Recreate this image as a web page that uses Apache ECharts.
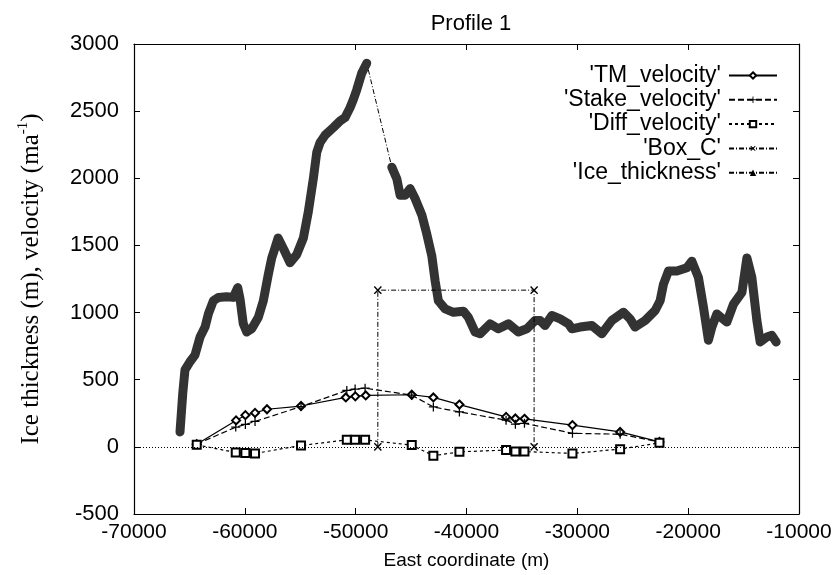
<!DOCTYPE html>
<html>
<head>
<meta charset="utf-8">
<script src="https://cdn.jsdelivr.net/npm/echarts@6/dist/echarts.min.js"></script>
<style>
  html, body { margin: 0; padding: 0; background: #fff; }
  #main { width: 839px; height: 575px; }
</style>
</head>
<body>
<div id="main"></div>
<script>
// ice thickness profile (dense band)
var iceX = [-65850,-65600,-65400,-64950,-64500,-64040,-63590,-63290,-62840,-62390,-61630,-61040,-60640,-60430,-60140,-59830,-59380,-58780,-58330,-57880,-57570,-57370,-57000,-56460,-55920,-55320,-54720,-54270,-53820,-53510,-53210,-52760,-52010,-51410,-50960,-50510,-50210,-49900,-49450,-49000,-46740,-46290,-45990,-45540,-45090,-44640,-44030,-43580,-43130,-42830,-42540,-41930,-41180,-40280,-39830,-39220,-38770,-37870,-37120,-36220,-35320,-34560,-33810,-33360,-32910,-32300,-31550,-30800,-30500,-29750,-28690,-27790,-26890,-25840,-25240,-24790,-23880,-22980,-22530,-22230,-21780,-21020,-20120,-19670,-19070,-18620,-18170,-17860,-17410,-16510,-15910,-15150,-14700,-14250,-13800,-13500,-12900,-12450,-12060];
var iceV = [111,400,573,634,683,818,892,990,1088,1113,1118,1113,1186,1100,916,855,879,965,1088,1284,1407,1457,1555,1466,1371,1432,1555,1752,1997,2194,2267,2321,2378,2427,2452,2525,2587,2660,2783,2857,2083,1997,1874,1874,1923,1850,1727,1584,1422,1236,1088,1027,1002,1010,965,855,842,916,879,916,855,879,941,941,904,978,953,916,879,892,904,842,941,1002,953,892,941,1015,1088,1211,1309,1309,1334,1383,1260,1039,794,892,990,929,1063,1150,1407,1260,941,781,818,830,781];

// velocities
var tmX = [-64340,-60790,-59950,-59080,-58000,-54930,-50890,-50030,-49090,-44940,-42990,-40640,-36430,-35590,-34770,-30440,-26140,-22590];
var tmV = [20,197,236,253,280,304,368,376,383,388,368,315,223,211,209,162,111,37];
var velX = [-64340,-60820,-59950,-59080,-54930,-50800,-50050,-49150,-44940,-42990,-40640,-36430,-35590,-34770,-30440,-26140,-22590];
var stakeV = [20,147,167,189,300,420,430,437,385,297,260,199,169,175,101,94,37];
var diffV = [15,-42,-46,-49,10,52,52,52,13,-66,-37,-24,-35,-35,-49,-17,30];

// box C outline
var boxX = [-48000,-48000,-33900,-33900];
var boxV = [0,1167,1167,0];

var xTicks = { min: -70000, max: -10000, interval: 10000 };
var yTicks = { min: -500, max: 3000, interval: 500 };

var legendNames = ["'TM_velocity'", "'Stake_velocity'", "'Diff_velocity'", "'Box_C'", "'Ice_thickness'"];

function zip(xs, ys) {
    var out = [];
    for (var i = 0; i < Math.min(xs.length, ys.length); i++) out.push([xs[i], ys[i]]);
    return out;
}

// band data: break the thick band where the profile has no samples
function withGaps(xs, ys, maxStep) {
    var out = [];
    for (var i = 0; i < xs.length; i++) {
        if (i > 0 && xs[i] - xs[i - 1] > maxStep) out.push([null, null]);
        out.push([xs[i], ys[i]]);
    }
    return out;
}

var SANS = 'Liberation Sans, Arial, sans-serif';
var SERIF = 'Liberation Serif, DejaVu Serif, serif';
var PLUS = 'path://M4.3,0H5.7V4.3H10V5.7H5.7V10H4.3V5.7H0V4.3H4.3Z';
var plain = function (v) { return String(v); };

var chart = echarts.init(document.getElementById('main'), null, { renderer: 'canvas' });

var axisCommon = {
    axisLine: { show: true, onZero: false, lineStyle: { color: '#000', width: 1.2 } },
    axisTick: { show: true, inside: true, length: 6, lineStyle: { color: '#000' } },
    splitLine: { show: false }
};

var legends = legendNames.map(function (n, i) {
    return {
        data: [n],
        orient: 'vertical',
        align: 'right',
        right: 56,
        top: 59 + i * 24.3,
        itemWidth: 48,
        itemHeight: 8,
        itemGap: 0,
        selectedMode: false,
        textStyle: { fontFamily: SANS, fontSize: 23, color: '#000', padding: [0, 3, 0, 0] }
    };
});

var option = {
    animation: false,
    backgroundColor: '#fff',
    title: {
        text: 'Profile 1',
        left: 466,
        textAlign: 'center',
        top: 8,
        textStyle: { fontFamily: SANS, fontSize: 22, fontWeight: 'normal', color: '#000' }
    },
    legend: legends,
    grid: { left: 134, right: 40, top: 44, bottom: 56 },
    xAxis: [
        Object.assign({
            type: 'value', position: 'bottom',
            min: xTicks.min, max: xTicks.max, interval: xTicks.interval,
            name: 'East coordinate (m)', nameLocation: 'middle', nameGap: 37,
            nameTextStyle: { fontFamily: SANS, fontSize: 19, color: '#000' },
            axisLabel: { fontFamily: SANS, fontSize: 21, color: '#000', margin: 8, formatter: plain }
        }, axisCommon),
        Object.assign({
            type: 'value', position: 'top',
            min: xTicks.min, max: xTicks.max, interval: xTicks.interval,
            axisLabel: { show: false }
        }, axisCommon)
    ],
    yAxis: [
        Object.assign({
            type: 'value', position: 'left',
            min: yTicks.min, max: yTicks.max, interval: yTicks.interval,
            name: '{a|Ice thickness (m), velocity (ma}{s|-1}{a|)}', nameLocation: 'middle', nameGap: 90,
            nameTextStyle: {
                fontFamily: SERIF, fontSize: 25, color: '#000',
                rich: {
                    a: { fontFamily: SERIF, fontSize: 25, color: '#000', lineHeight: 28, verticalAlign: 'bottom' },
                    s: { fontFamily: SERIF, fontSize: 15, color: '#000', lineHeight: 28, verticalAlign: 'top' }
                }
            },
            axisLabel: { fontFamily: SANS, fontSize: 22, color: '#000', margin: 15, formatter: plain }
        }, axisCommon),
        Object.assign({
            type: 'value', position: 'right',
            min: yTicks.min, max: yTicks.max, interval: yTicks.interval,
            axisLabel: { show: false }
        }, axisCommon)
    ],
    series: [
        {
            name: "'Ice_thickness'",
            type: 'line',
            data: zip(iceX, iceV),
            symbol: 'triangle',
            symbolSize: 7,
            showSymbol: false,
            itemStyle: { color: '#000' },
            lineStyle: { color: '#000', width: 1, type: [5, 2, 1, 2] },
            z: 2
        },
        {
            name: 'ice band',
            type: 'line',
            data: withGaps(iceX, iceV, 1500),
            symbol: 'none',
            silent: true,
            connectNulls: false,
            lineStyle: { color: '#333', width: 9, join: 'round', cap: 'round' },
            z: 3
        },
        {
            name: "'TM_velocity'",
            type: 'line',
            data: zip(tmX, tmV),
            symbol: 'emptyDiamond',
            symbolSize: 8,
            itemStyle: { color: '#000', borderWidth: 1 },
            lineStyle: { color: '#000', width: 1.2, type: 'solid' },
            z: 4
        },
        {
            name: "'Stake_velocity'",
            type: 'line',
            data: zip(velX, stakeV),
            symbol: PLUS,
            symbolSize: 9,
            itemStyle: { color: '#000' },
            lineStyle: { color: '#000', width: 1.2, type: [6, 3] },
            z: 4
        },
        {
            name: "'Diff_velocity'",
            type: 'line',
            data: zip(velX, diffV),
            symbol: 'emptyRect',
            symbolSize: 8,
            itemStyle: { color: '#000', borderWidth: 1 },
            lineStyle: { color: '#000', width: 1.2, type: [3, 3] },
            markLine: {
                silent: true,
                symbol: 'none',
                label: { show: false },
                lineStyle: { color: '#000', width: 1, type: [1, 2] },
                data: [{ yAxis: 0 }]
            },
            z: 4
        },
        {
            name: "'Box_C'",
            type: 'line',
            data: zip(boxX, boxV),
            symbol: PLUS,
            symbolRotate: 45,
            symbolSize: 10,
            itemStyle: { color: '#000' },
            lineStyle: { color: '#000', width: 1, type: [5, 2, 1, 2] },
            z: 4
        }
    ]
};

chart.setOption(option);
</script>
</body>
</html>
